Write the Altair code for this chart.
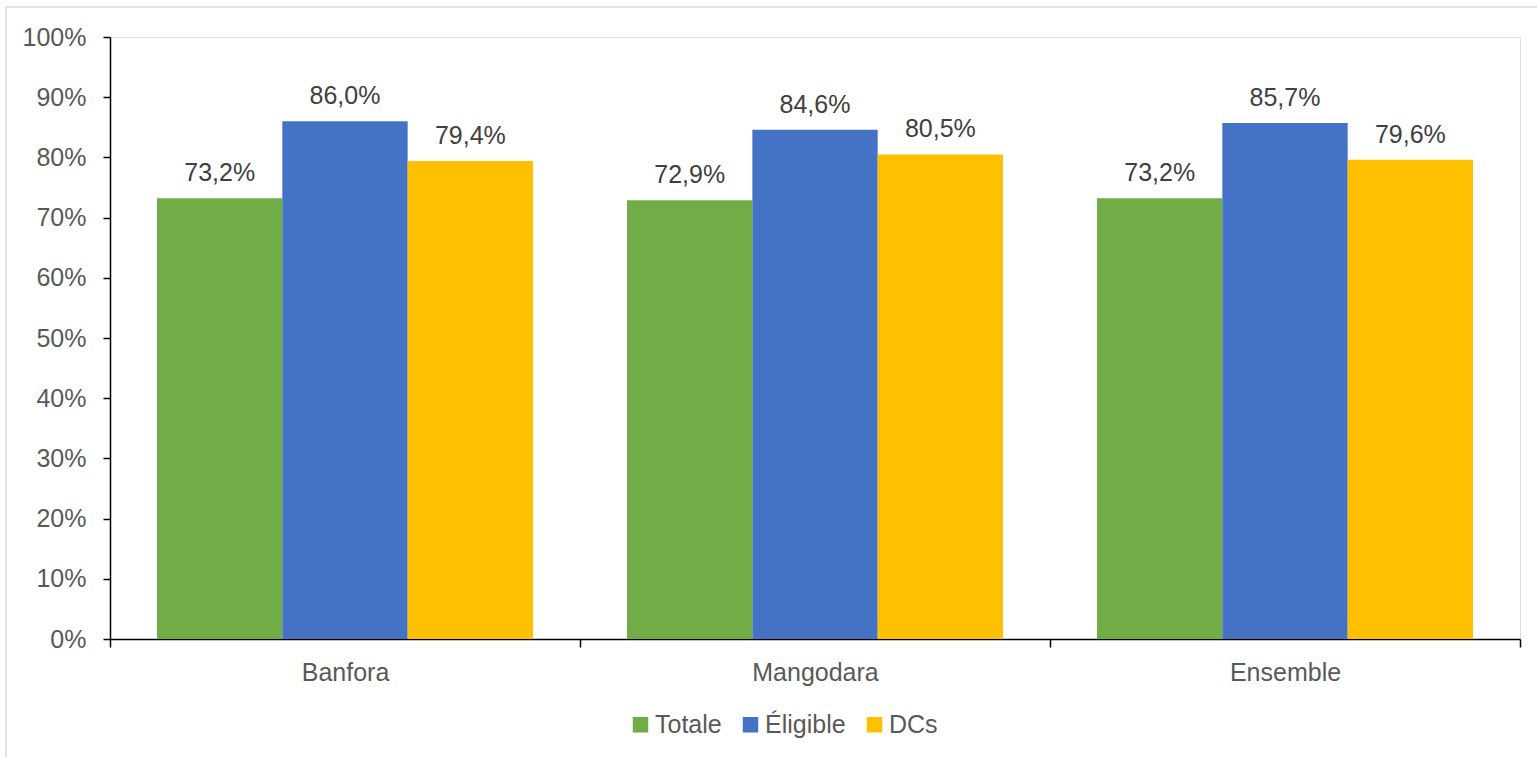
import altair as alt
import pandas as pd

categories = ["Banfora", "Mangodara", "Ensemble"]
series = ["Totale", "Éligible", "DCs"]
totale = [73.2, 72.9, 73.2]
eligible = [86.0, 84.6, 85.7]
dcs = [79.4, 80.5, 79.6]
colors = ["#70AD47", "#4472C4", "#FFC000"]
y_ticks = [0, 10, 20, 30, 40, 50, 60, 70, 80, 90, 100]

rows = []
for i, c in enumerate(categories):
    for s, vals in zip(series, [totale, eligible, dcs]):
        rows.append({"cat": c, "serie": s, "value": vals[i]})
df = pd.DataFrame(rows)

FONT = "Liberation Sans"
FS = 25

x_enc = alt.X("cat:N", sort=categories,
              scale=alt.Scale(paddingInner=0, paddingOuter=0),
              axis=alt.Axis(title=None, tickBand="extent", tickSize=8, tickColor="black",
                            tickWidth=1.5, domainColor="black", domainWidth=1.5,
                            labelFontSize=FS, labelColor="#595959", labelFont=FONT,
                            labelPadding=13, labelAngle=0))
xo_enc = alt.XOffset("serie:N", sort=series,
                     scale=alt.Scale(paddingInner=0, paddingOuter=0.375))

base = alt.Chart(df)

bars = base.mark_bar().encode(
    x=x_enc,
    xOffset=xo_enc,
    y=alt.Y("value:Q", scale=alt.Scale(domain=[0, 100], nice=False),
            axis=alt.Axis(title=None, values=y_ticks, labelExpr="datum.value + '%'",
                          tickSize=7, tickColor="black", tickWidth=1.5,
                          domainColor="black", domainWidth=1.5, grid=False,
                          labelFontSize=FS, labelColor="#595959", labelFont=FONT,
                          labelPadding=17)),
    color=alt.Color("serie:N", sort=series,
                    scale=alt.Scale(domain=series, range=colors),
                    legend=alt.Legend(title=None, orient="none", direction="horizontal",
                                      legendX=518, legendY=675,
                                      symbolType="square", symbolSize=240,
                                      symbolStrokeWidth=0, labelFontSize=FS,
                                      labelColor="#595959", labelFont=FONT,
                                      labelOffset=2, columnPadding=16)),
)

labels = base.mark_text(baseline="alphabetic", dy=-17, fontSize=FS, font=FONT,
                        color="#404040").transform_calculate(
    label="replace(format(datum.value, '.1f'), '.', ',') + '%'"
).encode(
    x=alt.X("cat:N", sort=categories),
    xOffset=alt.XOffset("serie:N", sort=series),
    y=alt.Y("value:Q"),
    text="label:N",
)

border = alt.Chart(alt.Data(values=[{}])).mark_rect(
    fill=None, stroke="#D9D9D9", strokeWidth=1.5
).encode(
    x=alt.value(-104), x2=alt.value(1500),
    y=alt.value(-30), y2=alt.value(800),
)

chart = alt.layer(border, bars, labels).properties(
    width=1410, height=602,
    autosize=alt.AutoSizeParams(type="none"),
    padding={"left": 110, "top": 37, "right": 17, "bottom": 118},
).configure_view(stroke=None).configure(background="white")

chart.save("out.html", embed_options={"renderer": "svg", "actions": False})
